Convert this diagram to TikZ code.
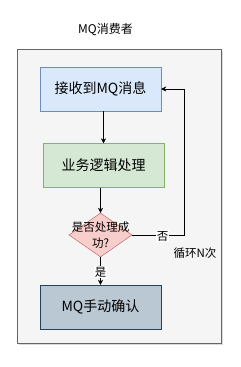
\documentclass[tikz,border=0pt]{standalone}
\usepackage{fontspec}
\setmainfont{Noto Sans CJK SC}
\usetikzlibrary{arrows.meta,shapes.geometric,shadows}
\definecolor{boxgray}{HTML}{F5F5F5}
\definecolor{linegray}{HTML}{666666}
\begin{document}
\begin{tikzpicture}
			[x=1pt, y=-1pt, >={Stealth[length=5pt,width=5pt]},
			 stepbox/.style={draw, minimum width=121pt, minimum height=44pt, inner sep=0pt, font=\fontsize{14pt}{16pt}\selectfont},
			 edgelabel/.style={fill=white, inner sep=1pt, font=\fontsize{11.5pt}{13pt}\selectfont}]
			\useasboundingbox (0,0) rectangle (241,367);
			\node (title) at (105.5,30) {\fontsize{12pt}{14pt}\selectfont MQ消费者};
			\node (frame) [draw=linegray, fill=boxgray, drop shadow={opacity=0.3, shadow xshift=2pt, shadow yshift=-2pt},
				minimum width=204pt, minimum height=294pt, inner sep=0pt] at (119,196) {};
			
			\node (recv) [stepbox, draw={rgb,255:red,108;green,142;blue,191}, fill={rgb,255:red,218;green,232;blue,252}] at (100.5,89) {接收到MQ消息};
			\node (work) [stepbox, draw={rgb,255:red,130;green,179;blue,102}, fill={rgb,255:red,213;green,232;blue,212}] at (103.5,165.5) {业务逻辑处理};
			\node (check) [diamond, draw={rgb,255:red,184;green,84;blue,80}, fill={rgb,255:red,248;green,206;blue,204},
				minimum width=63pt, minimum height=44pt, inner sep=0pt, aspect=1.43] at (100.5,235) {};
			\node (checktext) [align=center, font=\fontsize{11.5pt}{16pt}\selectfont] at (check.center) {是否处理成\\功?};
			\node (ack) [stepbox, draw={rgb,255:red,35;green,68;blue,93}, fill={rgb,255:red,186;green,200;blue,211}] at (100.5,307) {MQ手动确认};
			\coordinate (c1) at (184,235);
			\coordinate (c2) at (184,89);
			
			\draw[->] (recv.south -| work.north) -- (work.north);
			\draw[->] (work.south -| check.north) -- (check.north);
			\draw[->] (check.east) -- (c1) -- (c2) -- (recv.east);
			\draw[->] (check.south) -- (ack.north);
			\node[edgelabel] (no) at (162.5,236) {否};
			\node[edgelabel] (yes) at (100.5,272) {是};
			\node (loop) at (195,253) {\fontsize{11.5pt}{13pt}\selectfont 循环N次};
		\end{tikzpicture}
\end{document}
